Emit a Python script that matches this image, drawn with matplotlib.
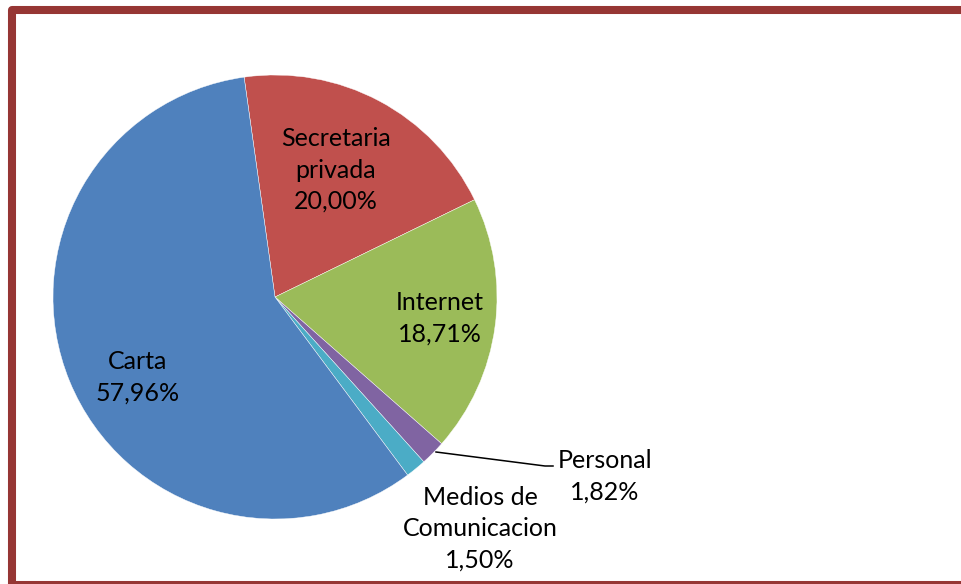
import matplotlib
matplotlib.use("Agg")
import matplotlib.pyplot as plt
from matplotlib.patches import Rectangle

# survey: how people got the information
labels = ["Secretaria\nprivada", "Internet", "Personal", "Medios de\nComunicacion", "Carta"]
shares = [20.00, 18.71, 1.82, 1.50, 57.96]
colors = ["#C0504D", "#9BBB59", "#8064A2", "#4BACC6", "#4F81BD"]

W, H = 961, 584
fig = plt.figure(figsize=(W / 100, H / 100), dpi=100)
ax = fig.add_axes([0, 0, 1, 1])

cx, cy, r = 275, H - 297, 222
ax.pie(shares, colors=colors, startangle=98, counterclock=False,
       center=(cx, cy), radius=r, frame=True,
       wedgeprops=dict(edgecolor="white", linewidth=0.3))
ax.set_xlim(0, W)
ax.set_ylim(0, H)
ax.set_aspect("equal")
ax.axis("off")

def pct(v):
    return f"{v:.2f}".replace(".", ",") + "%"

# label anchors (pixels from top-left)
spots = [(336, 170), (440, 318), (605, 476), (480, 529), (138, 377)]
font = dict(family="Lato", size=18, color="black", ha="center", va="center",
            linespacing=1.45)
for lab, v, (x, y) in zip(labels, shares, spots):
    ax.text(x, H - y, f"{lab}\n{pct(v)}", **font)

# leader line for the small purple slice
ax.plot([436, 545, 553], [H - 452, H - 466, H - 466], color="black", lw=1.1)

# dark red frame running off the right and bottom edges
ax.add_patch(Rectangle((12, H - 585), 980, 575, fill=False, edgecolor="#963634",
                       linewidth=5.8, joinstyle="round", clip_on=False))

fig.savefig("out.png", dpi=100)
